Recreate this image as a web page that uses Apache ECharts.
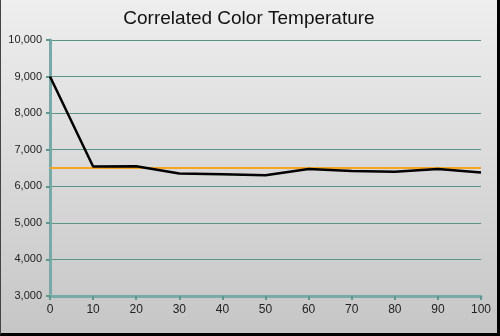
<!DOCTYPE html>
<html><head><meta charset="utf-8">
<script src="https://cdn.jsdelivr.net/npm/echarts@6/dist/echarts.min.js"></script>
<style>
html,body{margin:0;padding:0;}
#wrap{width:500px;height:336px;box-sizing:border-box;border-left:1px solid #444;border-right:3px solid #000;border-bottom:3px solid #000;background:linear-gradient(#eeeeee,#c6c6c6);}
#c{width:496px;height:333px;}
</style></head>
<body><div id="wrap"><div id="c"></div></div>
<script>
const xValues = [0,10,20,30,40,50,60,70,80,90,100];
const cctValues = [9000,6540,6550,6350,6330,6300,6470,6420,6400,6470,6380];
const targetValue = 6500;
const titleText = "Correlated Color Temperature";

const chart = echarts.init(document.getElementById('c'));
chart.setOption({
  backgroundColor: 'transparent',
  animation: false,
  title: {text: titleText, left: 'center', top: 4,
    textStyle: {fontFamily: 'Liberation Sans, Arial', fontSize: 19, fontWeight: 'normal', color: '#111'}},
  grid: {left: 49, right: 16, top: 40, bottom: 37},
  xAxis: {type: 'value', min: 0, max: 100, interval: 10,
    axisLine: {lineStyle: {color: '#7aaaa8', width: 3}},
    axisTick: {show: true, length: 4, lineStyle: {color: '#5e9690', width: 2}},
    axisLabel: {color: '#222', fontSize: 12, fontFamily: 'Liberation Sans, Arial', margin: 8},
    splitLine: {show: false}},
  yAxis: {type: 'value', min: 3000, max: 10000, interval: 1000,
    axisLine: {show: true, lineStyle: {color: '#7aaaa8', width: 3}},
    axisTick: {show: true, length: 4, lineStyle: {color: '#5e9690', width: 2}},
    axisLabel: {color: '#222', fontSize: 11, fontFamily: 'Liberation Sans, Arial', margin: 8,
      formatter: v => v.toLocaleString('en-US')},
    splitLine: {show: true, lineStyle: {color: '#5a9488', width: 1}}},
  series: [
    {type: 'line', data: xValues.map(x => [x, targetValue]), symbol: 'none',
      lineStyle: {color: '#f5a623', width: 2}, z: 2},
    {type: 'line', data: xValues.map((x, i) => [x, cctValues[i]]), symbol: 'none',
      lineStyle: {color: '#000', width: 2.5}, z: 3}
  ]
});
</script></body></html>
